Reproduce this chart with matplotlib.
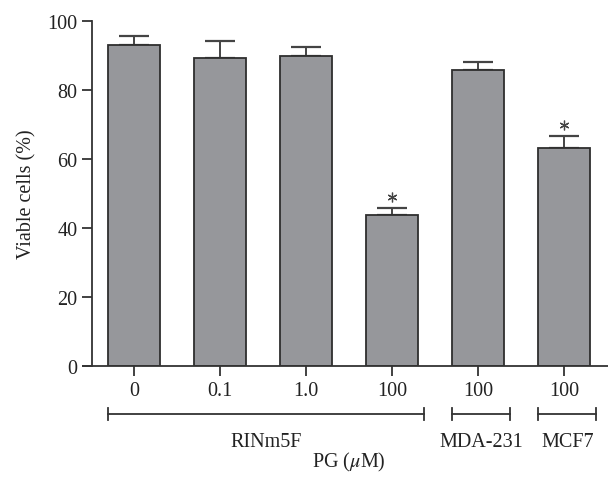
import matplotlib.pyplot as plt

# Cell viability after PG treatment (mean + SD)
doses = ["0", "0.1", "1.0", "100", "100", "100"]
viability = [93.0, 89.2, 89.9, 43.8, 85.9, 63.2]
errors = [2.7, 5.0, 2.6, 2.0, 2.3, 3.4]
significant = [False, False, False, True, False, True]

cell_lines = ["RINm5F", "MDA-231", "MCF7"]
line_spans = [(0, 3), (4, 4), (5, 5)]

plt.rcParams['font.family'] = ['Liberation Serif', 'DejaVu Serif']
plt.rcParams['mathtext.fontset'] = 'stix'

fig = plt.figure(figsize=(6.08, 4.85), dpi=100)
ax = fig.add_axes([0.137, 0.2433, 0.863, 0.7113])

x = list(range(len(viability)))
bar_col = '#96979b'
edge_col = '#2e2e2e'
ax.bar(x, viability, width=0.61, color=bar_col, edgecolor=edge_col, linewidth=1.3, zorder=2)
ax.errorbar(x, viability, yerr=[[0] * len(errors), errors], fmt='none',
            ecolor='#444444', elinewidth=1.4, capsize=10.5, capthick=1.6, zorder=1)

# asterisks over the significant bars
sig_x = [xi for xi, s in zip(x, significant) if s]
sig_y = [v + e + 3.3 for v, e, s in zip(viability, errors, significant) if s]
ax.plot(sig_x, sig_y, linestyle='none', marker=(6, 2, 0), markersize=7,
        markeredgewidth=0.9, color='#444444', clip_on=False)

ax.set_xlim(-0.59, 5.51)
ax.set_ylim(0, 100)
ax.set_yticks([0, 20, 40, 60, 80, 100])
ax.set_xticks(x)
ax.set_xticklabels(doses)
ax.tick_params(axis='both', labelsize=14.5, length=7, width=1.3, color='#333333', labelcolor='#222222')
ax.tick_params(axis='x', pad=4)

ax.spines['top'].set_visible(False)
ax.spines['right'].set_visible(False)
ax.spines['left'].set_position(('data', -0.49))
ax.spines['left'].set_linewidth(1.3)
ax.spines['bottom'].set_linewidth(1.3)
ax.spines['left'].set_color('#333333')
ax.spines['bottom'].set_color('#333333')

ax.set_ylabel('Viable cells (%)', fontsize=14.5, color='#222222', labelpad=8)

# group brackets under the dose labels
trans = ax.get_xaxis_transform()
y0 = -0.139
for name, (a, b) in zip(cell_lines, line_spans):
    left, right = a - 0.3, b + 0.375
    ax.plot([left, right], [y0, y0], color='#333333', lw=1.3, transform=trans, clip_on=False)
    for xe in (left, right):
        ax.plot([xe, xe], [y0 - 0.0175, y0 + 0.0175], color='#333333', lw=1.3,
                transform=trans, clip_on=False)
    ax.text((left + right) / 2, -0.219, name, ha='center', va='center', fontsize=14.5,
            color='#222222', transform=trans)

ax.text(2.5, -0.278, r'PG ($\mu$M)', ha='center', va='center', fontsize=14.5,
        color='#222222', transform=trans)

fig.savefig('out.png', dpi=100)
